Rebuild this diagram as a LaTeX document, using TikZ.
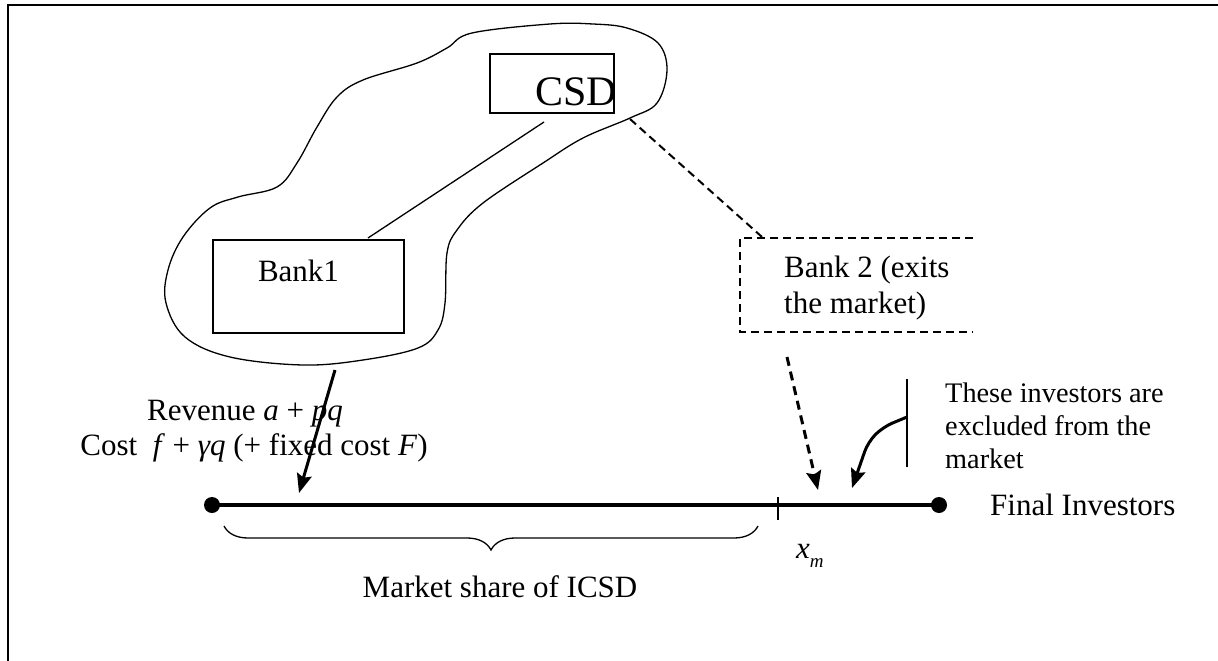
\documentclass[tikz,border=0pt]{standalone}
\usepackage{fontspec}
\setmainfont{Liberation Serif}
\usetikzlibrary{arrows.meta,decorations.pathreplacing}
\begin{document}
\begin{tikzpicture}[x=1pt,y=-1pt,
  thinl/.style={line width=1.3pt},
  dsh/.style={line width=2pt, dash pattern=on 8pt off 5pt},
  tipped/.style={-{Stealth[length=19pt,width=15pt,inset=3pt]}},
  lbl/.style={font=\fontsize{31}{35}\selectfont, inner sep=0pt},
  small/.style={font=\fontsize{28.3}{32}\selectfont, inner sep=0pt},
  boxs/.style={draw, line width=1.3pt, inner sep=0pt},
  dot/.style={circle, fill, inner sep=0pt, minimum size=16pt}
]
\useasboundingbox (0,0) rectangle (1218,661);
\draw[line width=2pt] (8,661) -- (8,5) -- (1218,5);

% blob
\draw[thinl] plot[smooth cycle, tension=0.6] coordinates {
 (593,24) (627,28) (658,43) (667,70) (657,103) (630,118) (583,138) (543,163)
 (483,203) (457,230) (447,253) (445,303) (438,330) (418,348) (363,360) (303,365)
 (230,357) (185,337) (166,303) (168,270) (183,237) (210,208) (238,197) (277,187)
 (297,163) (317,127) (337,97) (363,80) (417,63) (447,48) (472,33) (550,24)};

% CSD
\node[boxs, minimum width=124pt, minimum height=59pt] (csd) at (552,83.5) {};
\node[lbl, font=\fontsize{42}{46}\selectfont, anchor=base] (csdt) at (576,105) {CSD};

% Bank1
\node[boxs, minimum width=191pt, minimum height=93pt] (bank1) at (308.5,286.5) {};
\node[lbl, anchor=base] (bank1t) at (298.5,281) {Bank1};

\coordinate (b1a) at (368,238);
\coordinate (csda) at (544,122);
\draw[thinl] (b1a) -- (csda);

% Bank2 dashed box
\coordinate (b2tl) at (740,238);
\coordinate (b2tr) at (973,238);
\coordinate (b2bl) at (740,332);
\coordinate (b2br) at (973,332);
\draw[dsh] (b2tr) -- (b2tl) -- (b2bl) -- (b2br);
\node[lbl, anchor=base west] (bank2a) at (784,277) {Bank 2 (exits};
\node[lbl, anchor=base west] (bank2b) at (784,313) {the market)};

\coordinate (blobr) at (630,119);
\coordinate (b2in) at (762,237);
\draw[dsh] (blobr) -- (b2in);

% revenue / cost
\node[lbl, anchor=base] (rev) at (245,420) {Revenue \textit{a} + \textit{pq}};
\node[lbl, anchor=base] (cost) at (254,455) {Cost \ \textit{f} + \textit{γq} (+ fixed cost \textit{F})};

% main line
\node[dot] (d1) at (212,505) {};
\node[dot] (d2) at (939,505) {};
\draw[line width=4pt] (d1.center) -- (d2.center);
\coordinate (tk1) at (778,497);
\coordinate (tk2) at (778,520);
\draw[line width=1.5pt] (tk1) -- (tk2);

% arrows
\coordinate (a1s) at (335,370);
\coordinate (a1e) at (299,493);
\draw[line width=3pt, tipped] (a1s) -- (a1e);

\coordinate (a2s) at (787,357);
\coordinate (a2e) at (818,490);
\draw[line width=3pt, dash pattern=on 9pt off 6pt, tipped] (a2s) -- (a2e);

\coordinate (vt) at (907,379);
\coordinate (vb) at (907,467);
\draw[line width=1.3pt] (vt) -- (vb);
\coordinate (a3s) at (907,417);
\coordinate (a3e) at (852,488);
\draw[line width=3pt, tipped, rounded corners=10pt] (a3s) -- (883,427) -- (868,442) -- (a3e);

% excluded text
\node[small, anchor=base west] (ex1) at (945,402) {These investors are};
\node[small, anchor=base west] (ex2) at (945,435) {excluded from the};
\node[small, anchor=base west] (ex3) at (945,468) {market};

\node[lbl, anchor=base west] (fin) at (990,515) {Final Investors};

% brace
\coordinate (br1) at (224,526);
\coordinate (br2) at (758,526);
\draw[line width=1.3pt, decorate, decoration={brace, mirror, amplitude=24pt}] (br1) -- (br2);

\node[lbl, anchor=base west] (xm) at (796,558) {\textit{x}\raisebox{-0.3em}{\fontsize{19}{19}\selectfont\textit{m}}};
\node[lbl, anchor=base] (ms) at (500,597) {Market share of ICSD};
\end{tikzpicture}
\end{document}
